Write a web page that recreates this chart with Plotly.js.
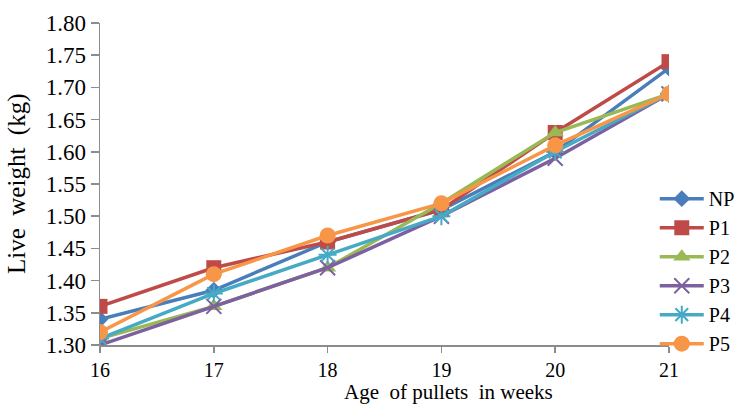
<!DOCTYPE html>
<html><head><meta charset="utf-8">
<script src="https://cdn.plot.ly/plotly-3.0.1.min.js"></script>
<style>html,body{margin:0;padding:0;background:#fff}#chart{width:743px;height:404px}</style>
</head><body><div id="chart"></div>
<script>
const weeks = [16, 17, 18, 19, 20, 21];
const seriesNames = ['NP', 'P1', 'P2', 'P3', 'P4', 'P5'];
const NP = [1.34, 1.385, 1.46, 1.51, 1.60, 1.73];
const P1 = [1.36, 1.42, 1.46, 1.51, 1.63, 1.74];
const P2 = [1.31, 1.36, 1.42, 1.52, 1.63, 1.69];
const P3 = [1.30, 1.36, 1.42, 1.50, 1.59, 1.69];
const P4 = [1.31, 1.38, 1.44, 1.50, 1.60, 1.69];
const P5 = [1.32, 1.41, 1.47, 1.52, 1.61, 1.69];
const yTicks = [1.30, 1.35, 1.40, 1.45, 1.50, 1.55, 1.60, 1.65, 1.70, 1.75, 1.80];
const xTitle = 'Age  of pullets  in weeks';
const yTitle = 'Live  weight  (kg)';

const values = [NP, P1, P2, P3, P4, P5];
const colors = ['#4A7EBB', '#BE4B48', '#98B954', '#7D60A0', '#46AAC5', '#F79646'];
const symbols = ['diamond', 'square', 'triangle-up', 'x-thin-open', 'asterisk-open', 'circle'];
const sizes = [13, 15, 15, 15, 15, 16];

const traces = values.map((v, i) => ({
  x: weeks, y: v, name: seriesNames[i], type: 'scatter', mode: 'lines+markers',
  line: {color: colors[i], width: 3.5},
  marker: {symbol: symbols[i], size: sizes[i], color: colors[i], line: {color: colors[i], width: (i === 3 || i === 4) ? 2 : 0}}
}));

const font = {family: '"Liberation Serif", "Times New Roman", serif', color: '#000'};
const layout = {
  width: 743, height: 404,
  margin: {l: 100, r: 74, t: 23, b: 59, autoexpand: false},
  paper_bgcolor: '#fff', plot_bgcolor: '#fff',
  showlegend: true,
  legend: {x: 0.975, xanchor: 'left', y: 0.515, yanchor: 'top', font: Object.assign({size: 20}, font),
           tracegroupgap: 0, itemwidth: 44, bgcolor: 'rgba(0,0,0,0)'},
  xaxis: {
    range: [16, 21], tickvals: weeks, ticktext: weeks.map(String),
    showline: true, linecolor: '#8c8c8c', linewidth: 1.5, showgrid: false, zeroline: false,
    ticks: 'outside', ticklen: 6, tickcolor: '#8c8c8c', tickwidth: 1.5,
    ticklabelstandoff: 0,
    tickfont: Object.assign({size: 20}, font),
    automargin: false
  },
  yaxis: {
    range: [1.30, 1.80], tickvals: yTicks, ticktext: yTicks.map(v => v.toFixed(2)),
    showline: true, linecolor: '#8c8c8c', linewidth: 1.5, showgrid: false, zeroline: false,
    ticks: 'outside', ticklen: 8, tickcolor: '#8c8c8c', tickwidth: 1.5,
    tickfont: Object.assign({size: 23}, font),
    automargin: false
  },
  annotations: [
    {text: xTitle, xref: 'paper', yref: 'paper', x: 0.612, y: 0, xanchor: 'center', yanchor: 'bottom',
     yshift: -60, borderpad: 0, showarrow: false, font: Object.assign({size: 21}, font)},
    {text: yTitle, xref: 'paper', yref: 'paper', x: 0, y: 0.5, xanchor: 'center', yanchor: 'middle',
     xshift: -83, textangle: -90, showarrow: false, font: Object.assign({size: 25}, font)}
  ]
};
Plotly.newPlot('chart', traces, layout, {displayModeBar: false, staticPlot: true});
</script></body></html>
